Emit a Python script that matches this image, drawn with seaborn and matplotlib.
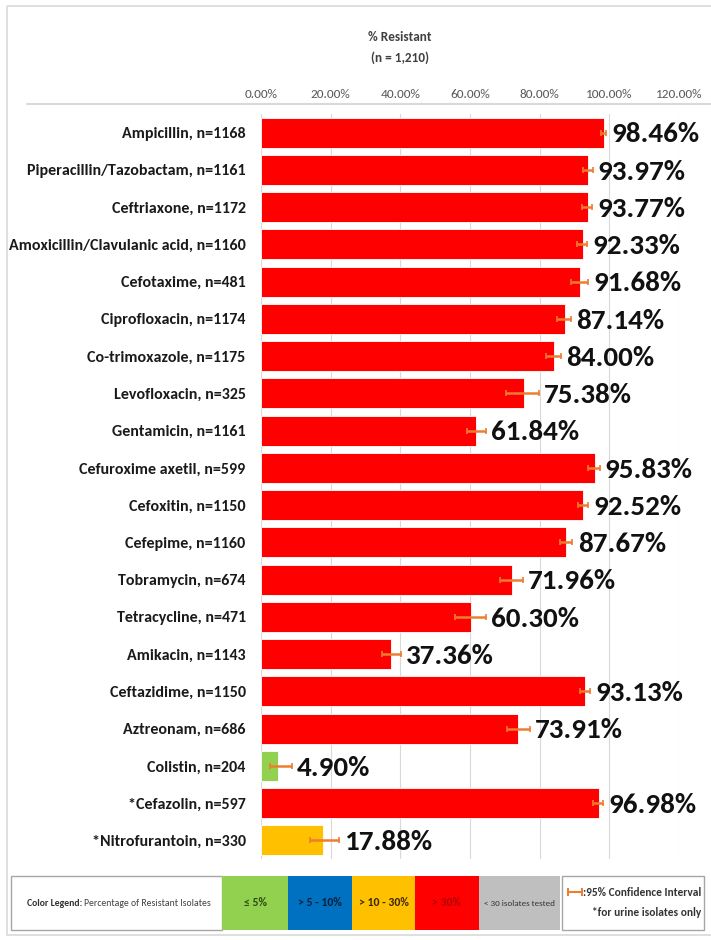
import matplotlib
matplotlib.use("Agg")
import matplotlib.pyplot as plt
import seaborn as sns
import numpy as np
import pandas as pd
from matplotlib.patches import Rectangle

# ---- data -------------------------------------------------------------
drugs = [
    "Ampicillin, n=1168",
    "Piperacillin/Tazobactam, n=1161",
    "Ceftriaxone, n=1172",
    "Amoxicillin/Clavulanic acid, n=1160",
    "Cefotaxime, n=481",
    "Ciprofloxacin, n=1174",
    "Co-trimoxazole, n=1175",
    "Levofloxacin, n=325",
    "Gentamicin, n=1161",
    "Cefuroxime axetil, n=599",
    "Cefoxitin, n=1150",
    "Cefepime, n=1160",
    "Tobramycin, n=674",
    "Tetracycline, n=471",
    "Amikacin, n=1143",
    "Ceftazidime, n=1150",
    "Aztreonam, n=686",
    "Colistin, n=204",
    "*Cefazolin, n=597",
    "*Nitrofurantoin, n=330",
]
pct_resistant = [98.46, 93.97, 93.77, 92.33, 91.68, 87.14, 84.00, 75.38, 61.84, 95.83,
                 92.52, 87.67, 71.96, 60.30, 37.36, 93.13, 73.91, 4.90, 96.98, 17.88]
ci_low = [97.6, 92.4, 92.2, 90.7, 88.9, 85.1, 81.8, 70.4, 59.0, 93.9,
          90.9, 85.7, 68.5, 55.8, 34.6, 91.5, 70.5, 2.7, 95.3, 14.1]
ci_high = [99.0, 95.2, 95.0, 93.7, 93.8, 88.9, 86.0, 79.8, 64.6, 97.2,
           93.9, 89.4, 75.2, 64.6, 40.2, 94.5, 77.1, 8.8, 98.1, 22.4]

band_labels = ["\u2264 5%", "> 5 - 10%", "> 10 - 30%", "> 30%", "< 30 isolates tested"]
band_colors = ["#92D050", "#0070C0", "#FFC000", "#FF0000", "#BFBFBF"]
drug_band = ["> 30%"] * 17 + ["\u2264 5%", "> 30%", "> 10 - 30%"]

x_ticks = [0, 20, 40, 60, 80, 100, 120]
axis_title = ["% Resistant", "(n = 1,210)"]

# ---- styling ------------------------------------------------------------
sns.set_theme(style="white")
FONT = ["Carlito", "Liberation Sans", "DejaVu Sans"]
plt.rcParams["font.family"] = FONT

W, H = 711, 940
fig = plt.figure(figsize=(W / 100, H / 100), dpi=100)
fig.patch.set_facecolor("white")

ax = fig.add_axes([261 / W, 1 - 859 / H, (679 - 261) / W, (859 - 114) / H])

df = pd.DataFrame({"drug": drugs, "pct": pct_resistant, "band": drug_band})
palette = dict(zip(band_labels, band_colors))

sns.barplot(data=df, x="pct", y="drug", hue="band", palette=palette,
            hue_order=band_labels, dodge=False, width=0.81, legend=False,
            saturation=1, edgecolor="white", linewidth=0.6, ax=ax)

pct_arr = np.array(pct_resistant)
err = [pct_arr - np.array(ci_low), np.array(ci_high) - pct_arr]
ypos = np.arange(len(drugs))
ax.errorbar(pct_arr, ypos, xerr=err, fmt="none", ecolor="#ED7D31",
            elinewidth=1.8, capsize=2.2, capthick=1.2, zorder=4)

for y, v, hi in zip(ypos, pct_resistant, ci_high):
    ax.text(hi + 1.5, y + 0.05, f"{v:.2f}%", ha="left", va="center",
            fontsize=21, fontweight="bold", color="#111111")

ax.set_xlim(0, 120)
ax.set_ylim(len(drugs) - 0.5, -0.5)
ax.set_xticks(x_ticks)
ax.set_xticklabels([f"{t:.2f}%" for t in x_ticks])
ax.xaxis.tick_top()
ax.tick_params(axis="x", length=0, pad=10, labelsize=9.5, labelcolor="#595959")
ax.tick_params(axis="y", length=0, pad=11, labelsize=11.5, labelcolor="#1a1a1a")
for lab in ax.get_yticklabels():
    lab.set_fontweight("bold")
ax.set_xlabel("")
ax.set_ylabel("")
ax.xaxis.grid(True, color="#D9D9D9", linewidth=0.8)
ax.yaxis.grid(False)
ax.set_axisbelow(True)
for s in ax.spines.values():
    s.set_visible(False)

# ---- overlay in pixel coordinates: frame, title, legend ------------------
ov = fig.add_axes([0, 0, 1, 1], zorder=10)
ov.set_xlim(0, W)
ov.set_ylim(H, 0)
ov.axis("off")
ov.patch.set_alpha(0)

ov.add_patch(Rectangle((7, 6), 720, 929, fill=False, ec="#D9D9D9", lw=1.2))
ov.plot([27, 711], [104, 104], color="#D9D9D9", lw=1.5)

ov.text(400, 37, axis_title[0], ha="center", va="center", fontsize=9.5,
        fontweight="bold", color="#404040")
ov.text(400, 58, axis_title[1], ha="center", va="center", fontsize=9.5,
        fontweight="bold", color="#404040")

y0, y1 = 876, 930
ym = (y0 + y1) / 2
ov.add_patch(Rectangle((11, y0), 222 - 11, y1 - y0, fc="white", ec="#A6A6A6", lw=1))
ov.text(82, ym, "Color Legend:", ha="right", va="center", fontsize=7,
        fontweight="bold", color="#333333")
ov.text(84, ym, "Percentage of Resistant Isolates", ha="left", va="center",
        fontsize=7, color="#404040")

edges = [222, 288, 352, 415, 479, 560]
text_cols = ["#2b4a10", "#0b1f3a", "#3a2a00", "#b00000", "#333333"]
sizes = [8.5, 8.5, 8.5, 8.5, 6.5]
for i, (lab, col) in enumerate(zip(band_labels, band_colors)):
    ov.add_patch(Rectangle((edges[i], y0), edges[i + 1] - edges[i], y1 - y0,
                           fc=col, ec="none"))
    ov.text((edges[i] + edges[i + 1]) / 2, ym, lab, ha="center", va="center",
            fontsize=sizes[i], fontweight="bold" if i < 4 else "normal",
            color=text_cols[i])

ov.add_patch(Rectangle((562, y0), 704 - 562, y1 - y0, fc="white", ec="#A6A6A6", lw=1))
ov.errorbar([575], [892], xerr=[[7], [7]], fmt="none", ecolor="#ED7D31",
            elinewidth=1.5, capsize=3, capthick=1.4)
ov.text(583, 892, ":95% Confidence Interval", ha="left", va="center",
        fontsize=8.2, fontweight="bold", color="#333333")
ov.text(701, 913, "*for urine isolates only", ha="right", va="center",
        fontsize=8.2, fontweight="bold", color="#333333")

fig.savefig("out.png", dpi=100, facecolor="white")
